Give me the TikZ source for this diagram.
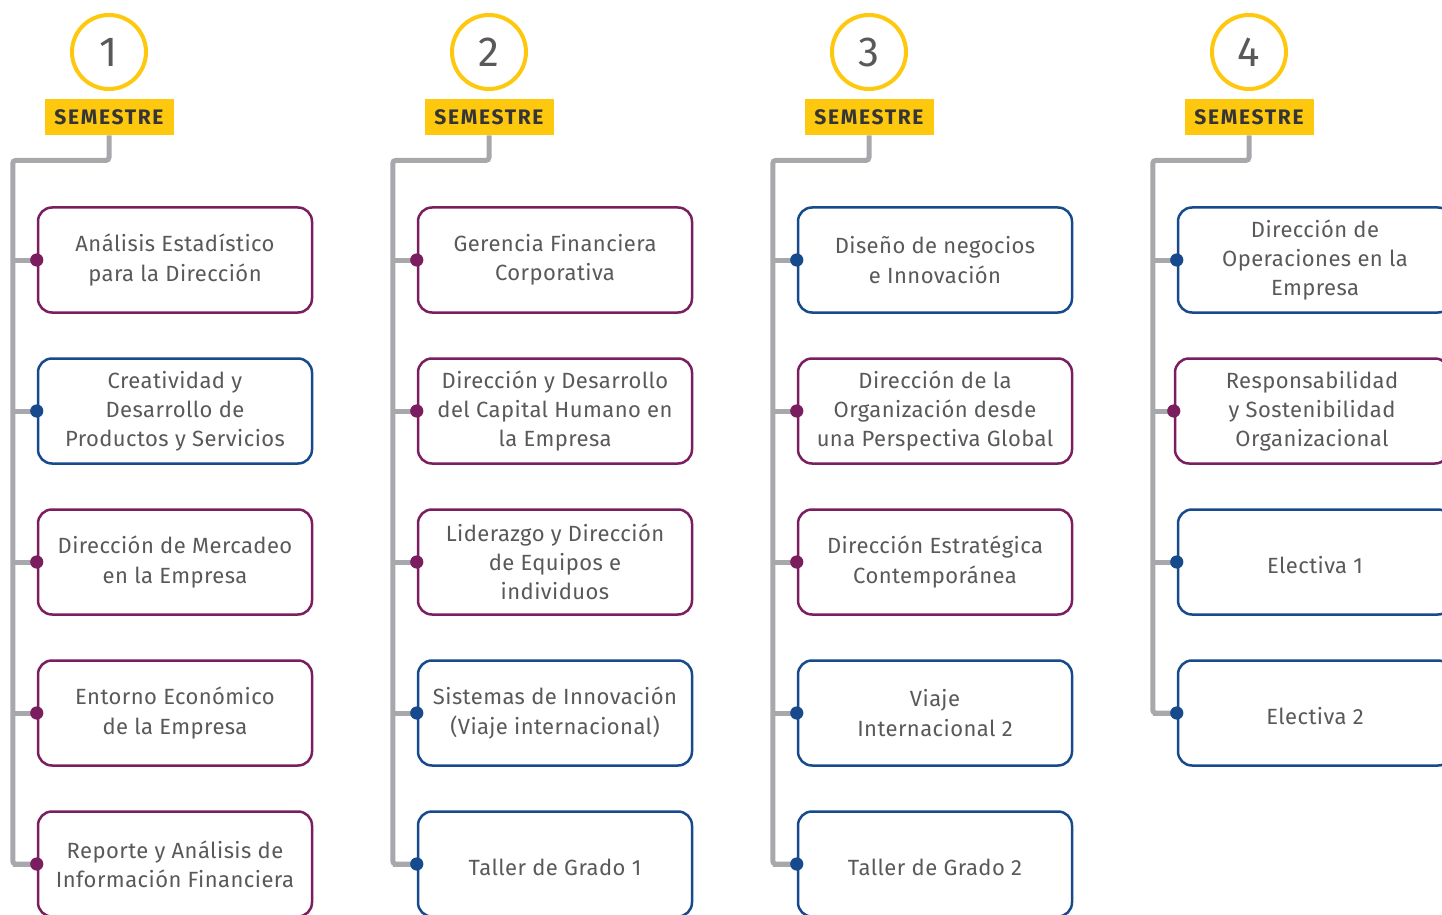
\documentclass[tikz,border=0pt]{standalone}
\usepackage{fontspec}
\setmainfont{Fira Sans}
\usetikzlibrary{positioning}
\definecolor{semyellow}{HTML}{FDC80D}
\definecolor{mpurple}{HTML}{7A1E5F}
\definecolor{mblue}{HTML}{174A8C}
\definecolor{railgray}{HTML}{A7A8AB}
\definecolor{txtgray}{HTML}{58595B}

\begin{document}
\begin{tikzpicture}[x=0.5pt, y=-0.5pt, node distance=75.5pt, on grid,
    course/.style={draw, line width=1.25pt, rounded corners=7pt, fill=white,
        minimum width=137pt, minimum height=52.5pt, align=center, text=txtgray,
        execute at begin node={\rule{0pt}{11.5pt}},
        font=\addfontfeatures{LetterSpace=2}\fontsize{11}{14.6}\selectfont},
    pcourse/.style={course, draw=mpurple},
    bcourse/.style={course, draw=mblue},
    semnum/.style={circle, draw=semyellow, line width=2pt, minimum size=37pt,
        text=txtgray, font=\fontsize{21}{21}\selectfont},
    semlabel/.style={fill=semyellow, minimum width=64.5pt, minimum height=18pt,
        text=txtgray!60!black, font=\bfseries\addfontfeatures{LetterSpace=8}\fontsize{10.5}{10.5}\selectfont},
    rail/.style={draw=railgray, line width=2.5pt, rounded corners=1.5pt}]
    \path[use as bounding box] (0,0) rectangle (1442,915);
    \clip (0,0) rectangle (1442,915);

    % SEMESTER HEADERS
    \node[semnum] (c1) at (109,52) {1};
    \node[semnum] (c2) [right=190pt of c1] {2};
    \node[semnum] (c3) [right=190pt of c2] {3};
    \node[semnum] (c4) [right=190pt of c3] {4};
    \node[semlabel] (lab1) [below=32.5pt of c1] {SEMESTRE};
    \node[semlabel] (lab2) [below=32.5pt of c2] {SEMESTRE};
    \node[semlabel] (lab3) [below=32.5pt of c3] {SEMESTRE};
    \node[semlabel] (lab4) [below=32.5pt of c4] {SEMESTRE};

    % SEMESTRE 1
    \node[pcourse] (b11) [below right=71.5pt and 33pt of lab1] {Análisis Estadístico\\para la Dirección};
    \node[bcourse] (b12) [below=of b11] {Creatividad y\\Desarrollo de\\Productos y Servicios};
    \node[pcourse] (b13) [below=of b12] {Dirección de Mercadeo\\en la Empresa};
    \node[pcourse] (b14) [below=of b13] {Entorno Económico\\de la Empresa};
    \node[pcourse] (b15) [below=of b14] {Reporte y Análisis de\\Información Financiera};

    % SEMESTRE 2
    \node[pcourse] (b21) [below right=71.5pt and 33pt of lab2] {Gerencia Financiera\\Corporativa};
    \node[pcourse] (b22) [below=of b21] {Dirección y Desarrollo\\del Capital Humano en\\la Empresa};
    \node[pcourse] (b23) [below=of b22] {Liderazgo y Dirección\\de Equipos e\\individuos};
    \node[bcourse] (b24) [below=of b23] {Sistemas de Innovación\\(Viaje internacional)};
    \node[bcourse] (b25) [below=of b24] {Taller de Grado 1};

    % SEMESTRE 3
    \node[bcourse] (b31) [below right=71.5pt and 33pt of lab3] {Diseño de negocios\\e Innovación};
    \node[pcourse] (b32) [below=of b31] {Dirección de la\\Organización desde\\una Perspectiva Global};
    \node[pcourse] (b33) [below=of b32] {Dirección Estratégica\\Contemporánea};
    \node[bcourse] (b34) [below=of b33] {Viaje\\Internacional 2};
    \node[bcourse] (b35) [below=of b34] {Taller de Grado 2};

    % SEMESTRE 4
    \node[bcourse] (b41) [below right=71.5pt and 33pt of lab4] {Dirección de\\Operaciones en la\\Empresa};
    \node[pcourse] (b42) [below left=75.5pt and 1.5pt of b41] {Responsabilidad\\y Sostenibilidad\\Organizacional};
    \node[bcourse] (b43) [below=151pt of b41] {Electiva 1};
    \node[bcourse] (b44) [below=of b43] {Electiva 2};

    % RAILS
    \coordinate[left=12pt of b11.west] (t1);
    \coordinate[left=12pt of b21.west] (t2);
    \coordinate[left=12pt of b31.west] (t3);
    \coordinate[left=12pt of b41.west] (t4);
    \draw[rail] (lab1.south) -- ++(0,-12.5pt) -| (t1 |- b15.west) -- (b15.west);
    \draw[rail] (lab2.south) -- ++(0,-12.5pt) -| (t2 |- b25.west) -- (b25.west);
    \draw[rail] (lab3.south) -- ++(0,-12.5pt) -| (t3 |- b35.west) -- (b35.west);
    \draw[rail] (lab4.south) -- ++(0,-12.5pt) -| (t4 |- b44.west) -- (b44.west);

    \foreach \col/\row/\clr in {1/1/mpurple, 1/2/mblue, 1/3/mpurple, 1/4/mpurple, 1/5/mpurple,
            2/1/mpurple, 2/2/mpurple, 2/3/mpurple, 2/4/mblue, 2/5/mblue,
            3/1/mblue, 3/2/mpurple, 3/3/mpurple, 3/4/mblue, 3/5/mblue,
            4/1/mblue, 4/2/mpurple, 4/3/mblue, 4/4/mblue} {
        \draw[rail] (t\col |- b\col\row.west) -- (b\col\row.west);
        \fill[\clr] (b\col\row.west) circle (3.3pt);
    }
\end{tikzpicture}
\end{document}
